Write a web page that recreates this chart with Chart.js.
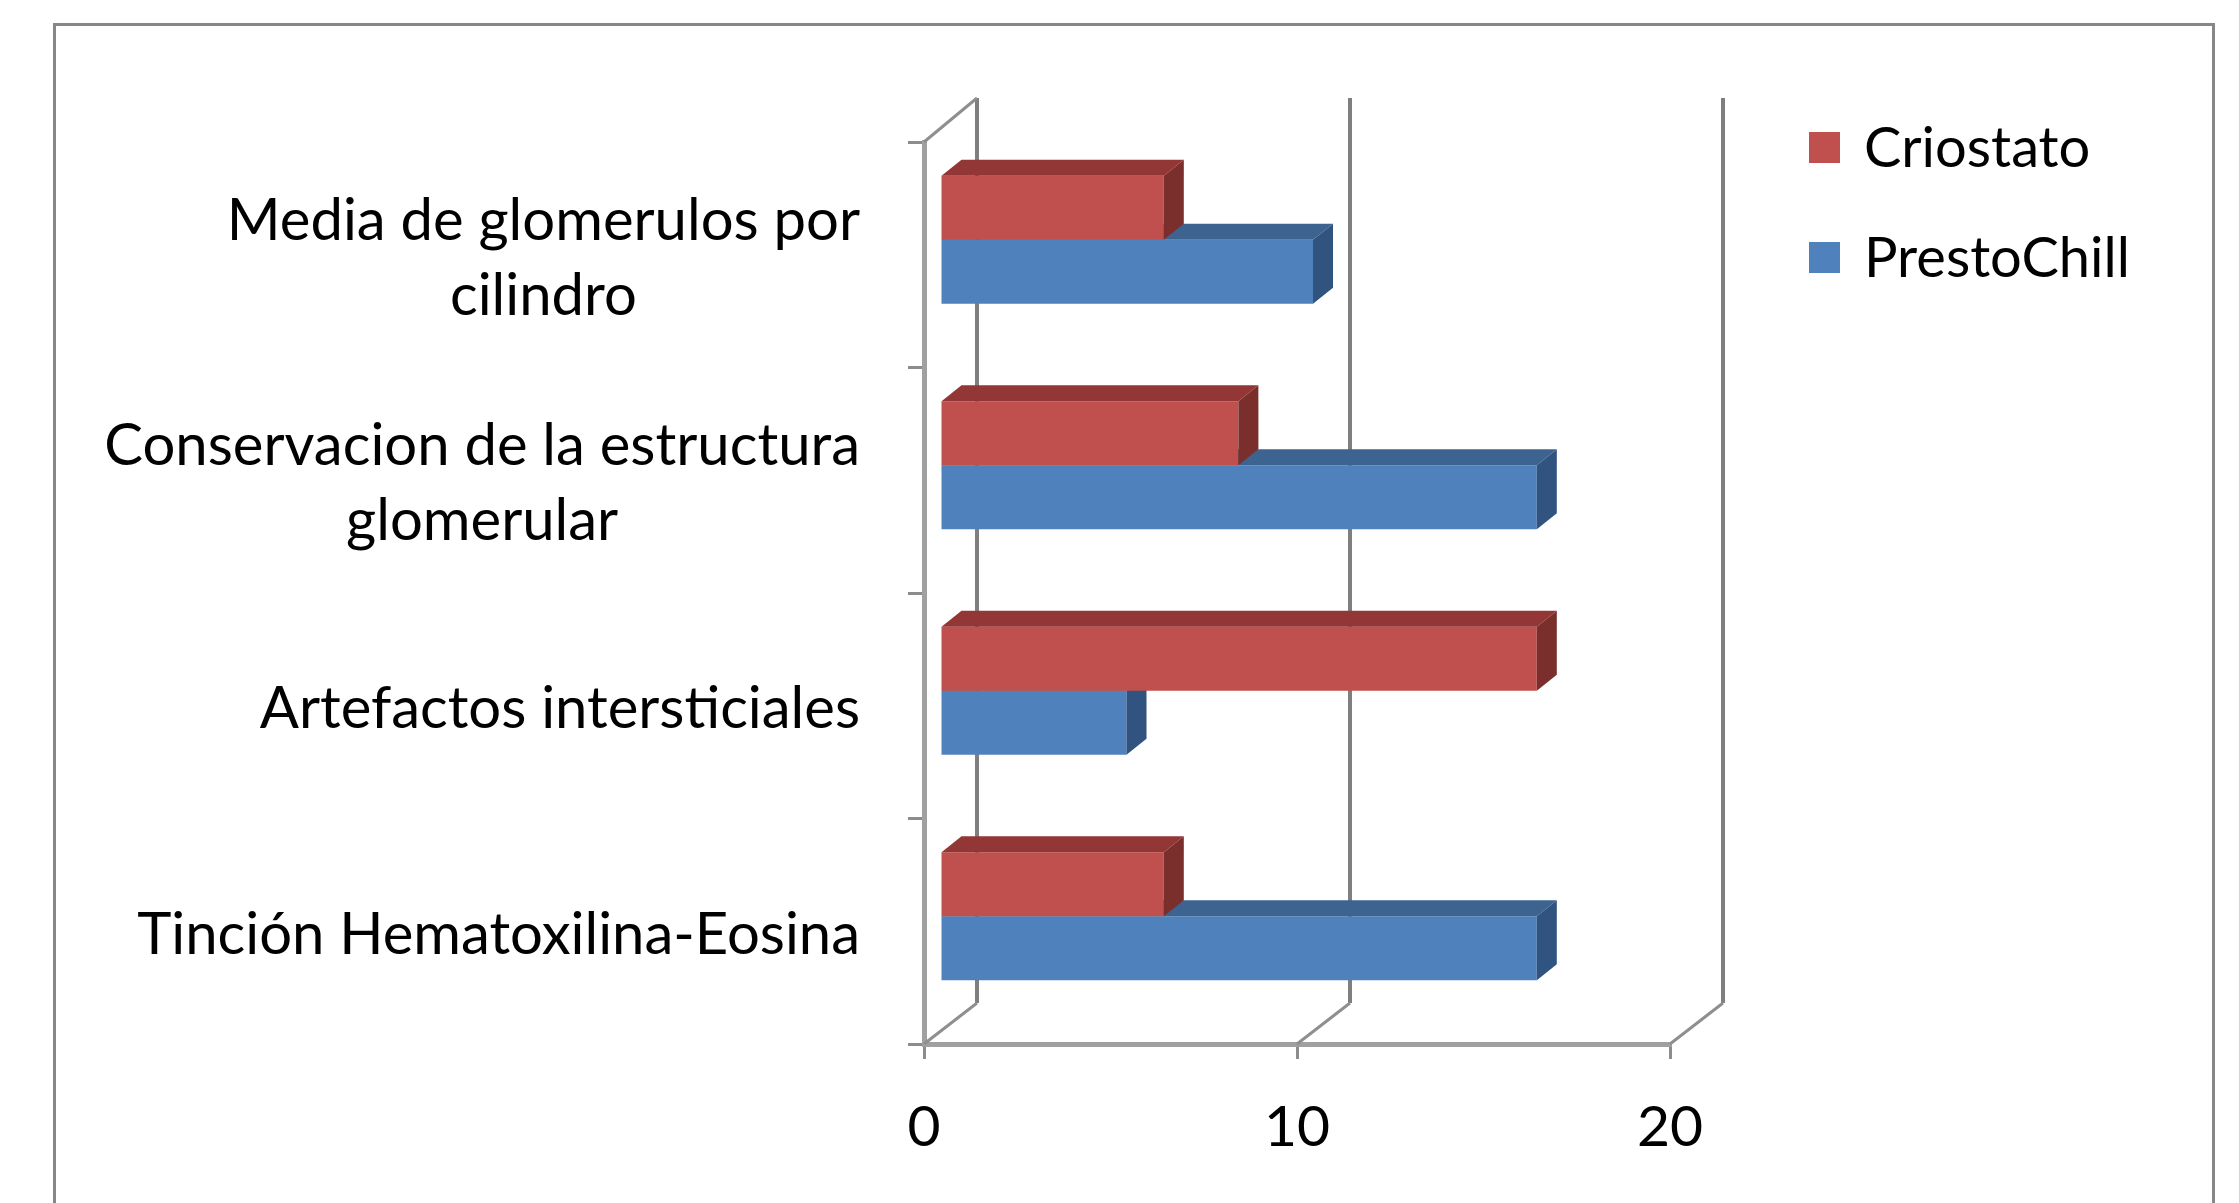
<!DOCTYPE html>
<html>
<head>
<meta charset="utf-8">
<title>Criostato vs PrestoChill</title>
<script src="https://cdn.jsdelivr.net/npm/chart.js@4.4.1/dist/chart.umd.min.js"></script>
<style>
  html, body { margin: 0; padding: 0; background: #fff; overflow: hidden; }
  canvas { display: block; }
</style>
</head>
<body>
<canvas id="barChart" width="2239" height="1203"></canvas>
<script>
// Data
const categories = [
    ['Media de glomerulos por', 'cilindro'],
    ['Conservacion de la estructura', 'glomerular'],
    'Artefactos intersticiales',
    'Tinción Hematoxilina-Eosina'
];
const seriesNames = ['Criostato', 'PrestoChill'];
const criostato = [6, 8, 16, 6];
const prestoChill = [10, 16, 5, 16];
const xTicks = [0, 10, 20];

// Look
const FONT = 'Lato';
const TEXT_SIZE = 57;
const LABEL_SIZE = 58;
const frontColors = ['#C0504D', '#4F81BD'];
const topColors = ['#923735', '#3D6491'];
const sideColors = ['#7B2F2D', '#30537F'];
const DEPTH = { x: 20, y: 16 };      // bar extrusion
const BAR_SHIFT = { x: 16, y: -15 }; // bars sit a little inside the box
const BACK = { x: 53, y: -42 };      // back wall offset

// outer frame of the chart object
const framePlugin = {
    id: 'frame',
    beforeDraw(chart) {
        const ctx = chart.ctx;
        ctx.save();
        ctx.strokeStyle = '#878787';
        ctx.lineWidth = 3;
        ctx.strokeRect(54.5, 24.5, 2159, 1400);
        ctx.restore();
    }
};

// back wall grid, floor diagonals and 3D faces of the bars
const depthPlugin = {
    id: 'depth',
    beforeDatasetsDraw(chart) {
        const { ctx, chartArea: area, scales: { x } } = chart;
        const backTop = area.top + BACK.y - 2;
        const backBottom = area.bottom + BACK.y + 1;
        ctx.save();
        ctx.strokeStyle = '#7f7f7f';
        ctx.lineWidth = 4;
        ctx.beginPath();
        xTicks.forEach(v => {
            const bx = x.getPixelForValue(v) + BACK.x;
            ctx.moveTo(bx, backTop);
            ctx.lineTo(bx, backBottom);
        });
        ctx.stroke();
        ctx.strokeStyle = '#8f8f8f';
        ctx.lineWidth = 3;
        ctx.beginPath();
        xTicks.forEach(v => {
            const fx = x.getPixelForValue(v);
            ctx.moveTo(fx, area.bottom);
            ctx.lineTo(fx + BACK.x, backBottom);
        });
        ctx.moveTo(area.left, area.top);
        ctx.lineTo(area.left + BACK.x, backTop);
        ctx.stroke();
        ctx.restore();

        ctx.save();
        ctx.translate(BAR_SHIFT.x, BAR_SHIFT.y);
    },
    afterDatasetDraw(chart, args) {
        const ctx = chart.ctx;
        const i = args.index;
        args.meta.data.forEach(bar => {
            const { x, y, base, height } = bar.getProps(['x', 'y', 'base', 'height'], true);
            const top = y - height / 2;
            const bottom = y + height / 2;
            ctx.fillStyle = topColors[i];
            ctx.beginPath();
            ctx.moveTo(base, top);
            ctx.lineTo(x, top);
            ctx.lineTo(x + DEPTH.x, top - DEPTH.y);
            ctx.lineTo(base + DEPTH.x, top - DEPTH.y);
            ctx.closePath();
            ctx.fill();
            ctx.fillStyle = sideColors[i];
            ctx.beginPath();
            ctx.moveTo(x, top);
            ctx.lineTo(x + DEPTH.x, top - DEPTH.y);
            ctx.lineTo(x + DEPTH.x, bottom - DEPTH.y);
            ctx.lineTo(x, bottom);
            ctx.closePath();
            ctx.fill();
        });
    },
    afterDatasetsDraw(chart) {
        chart.ctx.restore();
    }
};

// category labels: wrapped lines centred inside a right-aligned block
const categoryLabelPlugin = {
    id: 'categoryLabels',
    afterDraw(chart) {
        const { ctx, scales: { y } } = chart;
        const right = 860;
        const lineH = 75;
        ctx.save();
        ctx.font = LABEL_SIZE + 'px ' + FONT;
        ctx.fillStyle = '#000';
        ctx.textAlign = 'center';
        ctx.textBaseline = 'middle';
        chart.data.labels.forEach((label, i) => {
            const lines = Array.isArray(label) ? label : [label];
            const blockW = Math.max(...lines.map(l => ctx.measureText(l).width));
            const cy = y.getPixelForValue(i) + 4;
            lines.forEach((line, j) => {
                ctx.fillText(line, right - blockW / 2, cy + (j - (lines.length - 1) / 2) * lineH);
            });
        });
        ctx.restore();
    }
};

// legend on the right
const legendPlugin = {
    id: 'sideLegend',
    afterDraw(chart) {
        const ctx = chart.ctx;
        ctx.save();
        ctx.font = '56px ' + FONT;
        ctx.textBaseline = 'middle';
        ctx.textAlign = 'left';
        chart.data.datasets.forEach((ds, i) => {
            const cy = 147 + i * 110;
            ctx.fillStyle = ds.backgroundColor;
            ctx.fillRect(1809, cy - 15, 31, 31);
            ctx.fillStyle = '#000';
            ctx.fillText(ds.label, 1864, cy + 2);
        });
        ctx.restore();
    }
};

const chart = new Chart(document.getElementById('barChart'), {
    type: 'bar',
    data: {
        labels: categories,
        datasets: [
            { label: seriesNames[0], data: criostato, backgroundColor: frontColors[0], clip: false },
            { label: seriesNames[1], data: prestoChill, backgroundColor: frontColors[1], clip: false }
        ]
    },
    options: {
        indexAxis: 'y',
        responsive: false,
        devicePixelRatio: 1,
        animation: false,
        events: [],
        categoryPercentage: 0.568,
        barPercentage: 1,
        layout: { padding: { left: 0, top: 142, right: 569, bottom: 0 } },
        plugins: {
            legend: { display: false },
            tooltip: { enabled: false }
        },
        scales: {
            x: {
                min: 0,
                max: 20,
                afterBuildTicks: s => { s.ticks = xTicks.map(v => ({ value: v })); },
                grid: { drawOnChartArea: false, tickLength: 15, color: '#8c8c8c', lineWidth: 3 },
                border: { color: '#a0a0a0', width: 5 },
                ticks: { font: { family: FONT, size: TEXT_SIZE }, color: '#000', padding: 34, maxRotation: 0 },
                afterFit: s => { s.height = 159; }
            },
            y: {
                grid: { drawOnChartArea: false, tickLength: 16, color: '#8c8c8c', lineWidth: 3 },
                border: { color: '#a0a0a0', width: 5 },
                ticks: { display: false },
                afterFit: s => { s.width = 924; }
            }
        }
    },
    plugins: [framePlugin, depthPlugin, categoryLabelPlugin, legendPlugin]
});
</script>
</body>
</html>
